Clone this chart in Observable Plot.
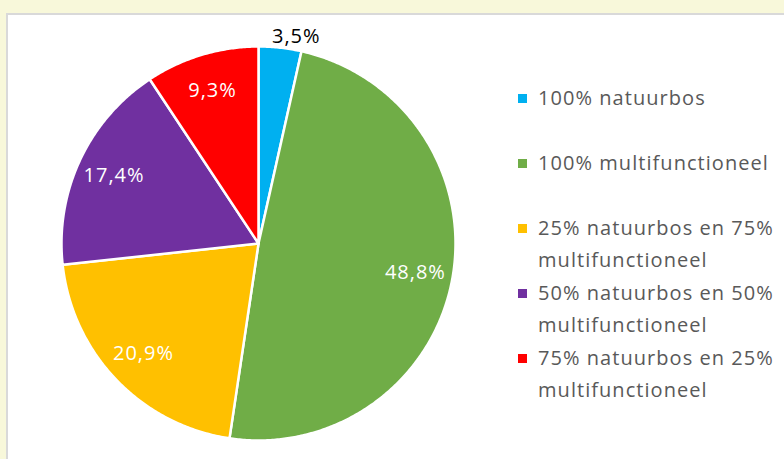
<!DOCTYPE html>
<html>
<head>
<meta charset="utf-8">
<script src="https://cdn.jsdelivr.net/npm/d3@7"></script>
<script src="https://cdn.jsdelivr.net/npm/@observablehq/plot@0.6"></script>
<style>
  html, body { margin: 0; padding: 0; }
  body { width: 784px; height: 459px; background: #F8F8DA; position: relative; overflow: hidden; font-family: "Open Sans", "Liberation Sans", sans-serif; }
  #panel { position: absolute; left: 6px; top: 13px; width: 800px; height: 500px; background: #fff; border: 2px solid #D9D9D9; box-sizing: border-box; }
  #chart { position: absolute; left: 48px; top: 33px; }
  #chart text { letter-spacing: 1px; }
  #legend { position: absolute; left: 514px; top: 82px; }
  .item { position: relative; height: 65px; }
  .sw { position: absolute; left: 4px; top: 12px; width: 9px; height: 9px; }
  .txt { position: absolute; left: 24px; top: 0; width: 250px; font-size: 20px; letter-spacing: 1.05px; line-height: 32px; color: #595959; }
</style>
</head>
<body>
<div id="panel"></div>
<div id="chart"></div>
<div id="legend"></div>
<script>
const categories = [
  "100% natuurbos",
  "100% multifunctioneel",
  "25% natuurbos en 75% multifunctioneel",
  "50% natuurbos en 50% multifunctioneel",
  "75% natuurbos en 25% multifunctioneel"
];
const values = [3.5, 48.8, 20.9, 17.4, 9.3];
const labels = ["3,5%", "48,8%", "20,9%", "17,4%", "9,3%"];
const colors = ["#00B0F0", "#70AD47", "#FFC000", "#7030A0", "#FF0000"];

const total = d3.sum(values);
const pts = [];
const lab = [];
let cum = 0;
values.forEach((v, i) => {
  const a0 = cum / total * 2 * Math.PI;
  const a1 = (cum + v) / total * 2 * Math.PI;
  cum += v;
  const cat = categories[i];
  pts.push({cat, x: 0, y: 0});
  const n = Math.max(4, Math.ceil((a1 - a0) / (Math.PI / 360)));
  for (let k = 0; k <= n; k++) {
    const a = a0 + (a1 - a0) * k / n;
    pts.push({cat, x: Math.sin(a), y: Math.cos(a)});
  }
  pts.push({cat, x: 0, y: 0});
  const am = (a0 + a1) / 2;
  const outside = v / total < 0.05;
  const r = outside ? 1.04 : 0.81;
  lab.push({text: labels[i], x: r * Math.sin(am), y: r * Math.cos(am), outside});
});

const D = 210 / 197;
const chart = Plot.plot({
  width: 420, height: 420,
  margin: 0,
  style: {background: "transparent", overflow: "visible"},
  x: {domain: [-D, D], axis: null},
  y: {domain: [-D, D], axis: null},
  color: {domain: categories, range: colors},
  marks: [
    Plot.line(pts, {x: "x", y: "y", z: "cat", fill: "cat", stroke: "white", strokeWidth: 2.5, strokeLinejoin: "round"}),
    Plot.text(lab.filter(d => !d.outside), {x: "x", y: "y", text: "text", fill: "white", fontSize: 20, fontFamily: "Open Sans"}),
    Plot.text(lab.filter(d => d.outside), {x: "x", y: "y", text: "text", fill: "black", fontSize: 20, fontFamily: "Open Sans", textAnchor: "start", dx: -9, dy: -3})
  ]
});
document.getElementById("chart").appendChild(chart);

const legend = document.getElementById("legend");
categories.forEach((c, i) => {
  const item = document.createElement("div");
  item.className = "item";
  const sw = document.createElement("div");
  sw.className = "sw";
  sw.style.background = colors[i];
  const t = document.createElement("div");
  t.className = "txt";
  t.textContent = c;
  item.appendChild(sw);
  item.appendChild(t);
  legend.appendChild(item);
});
</script>
</body>
</html>
